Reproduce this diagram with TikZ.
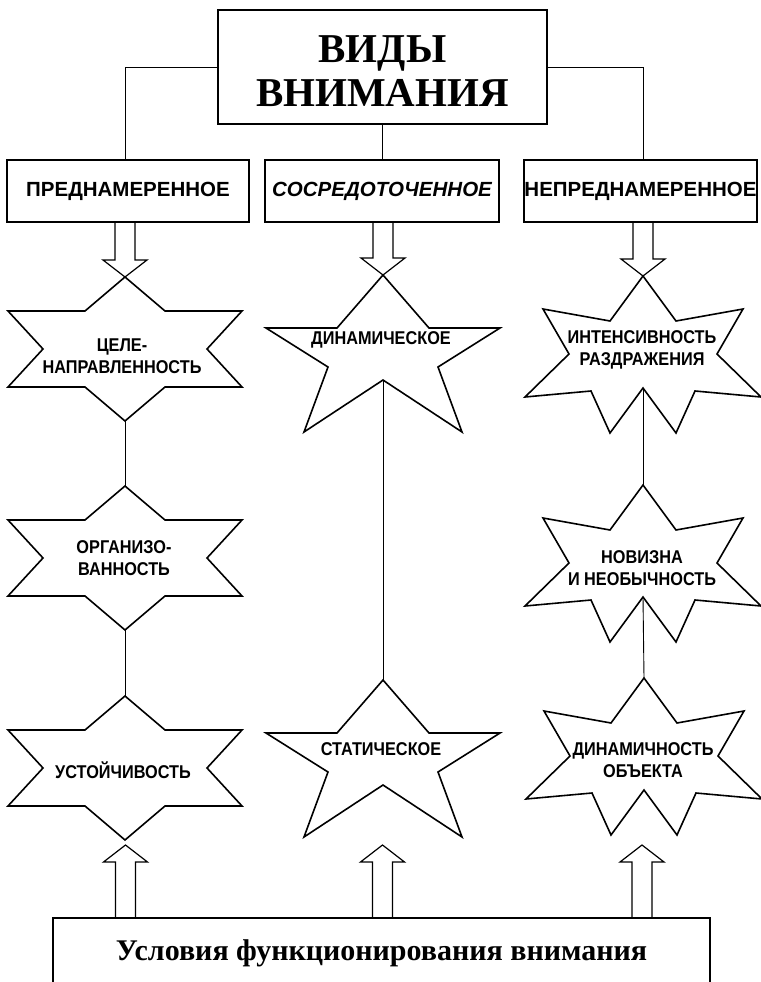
\documentclass[tikz,border=0pt]{standalone}
\usepackage{fontspec}
\setmainfont{Liberation Serif}
\setsansfont{Liberation Sans}
\newfontfamily\narrowsans[FakeStretch=0.88]{Liberation Sans}
\usetikzlibrary{calc}
\tikzset{
  hdbox/.style    = {draw, line width=1.8pt, minimum width=329pt, minimum height=114pt,
                     inner sep=0pt, align=center,
                     font=\fontsize{41}{44}\selectfont\bfseries},
  kindbox/.style  = {draw, line width=1.6pt, minimum height=62pt, inner sep=0pt,
                     font=\fontsize{20.5}{24}\sffamily\bfseries},
  condbox/.style  = {draw, line width=1.8pt, minimum width=657pt, minimum height=70pt,
                     inner sep=0pt, font=\fontsize{30}{34}\selectfont\bfseries},
  startxt/.style  = {align=center, inner sep=0pt,
                     font=\fontsize{18.5}{22}\narrowsans\bfseries},
  starline/.style = {draw, line width=1.6pt, line join=miter},
  lnk/.style      = {line width=0.9pt},
  hollowarr/.style= {line width=1.2pt, line join=miter},
  pics/hexstar/.style = {code={
    \draw[starline] (0,-72) -- (40,-38) -- (117,-38) -- (82,0) -- (117,38) -- (40,38)
      -- (0,72) -- (-40,38) -- (-117,38) -- (-82,0) -- (-117,-38) -- (-40,-38) -- cycle;
    \coordinate (-top) at (0,-72);
    \coordinate (-bot) at (0,72);
  }},
  pics/fivestar/.style = {code={
    \draw[starline] (0,-78) -- (46,-25) -- (117,-25) -- (55,14) -- (79,79) -- (0,27)
      -- (-79,79) -- (-55,14) -- (-117,-25) -- (-46,-25) -- cycle;
    \coordinate (-top) at (0,-78);
    \coordinate (-bot) at (0,27);
  }},
  pics/sevenstar/.style = {code={
    \draw[starline] (0,-80) -- (33,-35) -- (100,-47) -- (74,-2) -- (118,41) -- (52,35)
      -- (33,77) -- (0,32) -- (-33,77) -- (-52,35) -- (-118,41) -- (-74,-2)
      -- (-100,-47) -- (-33,-35) -- cycle;
    \coordinate (-top) at (0,-80);
    \coordinate (-bot) at (0,32);
  }},
}
% hollow block arrow: #1 = foot, #2 = tip
\newcommand\blockarrow[2]{%
  \coordinate (ahb) at ($(#2)!17pt!(#1)$);
  \draw[hollowarr] ($(#1)+(-10pt,0)$) -- ($(ahb)+(-10pt,0)$) -- ($(ahb)+(-22pt,0)$)
    -- (#2) -- ($(ahb)+(22pt,0)$) -- ($(ahb)+(10pt,0)$) -- ($(#1)+(10pt,0)$);
}

\begin{document}
\begin{tikzpicture}[x=1pt,y=-1pt]
  \useasboundingbox (0,0) rectangle (760,982);

  \node[hdbox] (title) at (382.5,67) {};
  \node[font=\fontsize{41}{44}\selectfont\bfseries, align=center, inner sep=0pt]
    (titletx) at (382.5,71) {ВИДЫ\\ВНИМАНИЯ};

  \node[kindbox, minimum width=242pt] (pre) at (128,191) {ПРЕДНАМЕРЕННОЕ};
  \node[kindbox, minimum width=234pt, font=\fontsize{20.5}{24}\sffamily\bfseries\itshape]
    (conc) at (382,191) {СОСРЕДОТОЧЕННОЕ};
  \node[kindbox, minimum width=233pt] (invol) at (640.5,191) {НЕПРЕДНАМЕРЕННОЕ};

  \node[condbox] (cond) at (381.5,953) {Условия функционирования внимания};

  % left column
  \pic (tsel) at (125,349) {hexstar};
  \node[startxt] (tseltx) at (122,356) {ЦЕЛЕ-\\НАПРАВЛЕННОСТЬ};
  \pic (org) at (125,558) {hexstar};
  \node[startxt] (orgtx) at (124,558) {ОРГАНИЗО-\\ВАННОСТЬ};
  \pic (ust) at (125,768) {hexstar};
  \node[startxt] (usttx) at (123,770) {УСТОЙЧИВОСТЬ};

  % middle column
  \pic (dyn) at (383,353) {fivestar};
  \node[startxt] (dyntx) at (381,340) {ДИНАМИЧЕСКОЕ};
  \pic (stat) at (383,758) {fivestar};
  \node[startxt] (stattx) at (381,749) {СТАТИЧЕСКОЕ};

  % right column
  \pic (inten) at (643,356) {sevenstar};
  \node[startxt] (intentx) at (642,350) {ИНТЕНСИВНОСТЬ\\РАЗДРАЖЕНИЯ};
  \pic (novel) at (643,565) {sevenstar};
  \node[startxt] (noveltx) at (642,568) {НОВИЗНА\\И НЕОБЫЧНОСТЬ};
  \pic (dobj) at (644,758) {sevenstar};
  \node[startxt] (dobjtx) at (643,760) {ДИНАМИЧНОСТЬ\\ОБЪЕКТА};

  \draw[lnk] (title.west) -| (pre.north -| tsel-top);
  \draw[lnk] (title.south) -- (title.south |- conc.north);
  \draw[lnk] (title.east) -| (invol.north -| inten-top);
  \draw[lnk] (tsel-bot) -- (org-top);
  \draw[lnk] (org-bot) -- (ust-top);
  \draw[lnk] (dyn-bot) -- (stat-top);
  \draw[lnk] (inten-bot) -- (novel-top);
  \draw[lnk] (novel-bot) -- (dobj-top);

  \blockarrow{pre.south -| tsel-top}{tsel-top}
  \blockarrow{conc.south -| dyn-top}{dyn-top}
  \blockarrow{invol.south -| inten-top}{inten-top}

  \coordinate (upA) at (125.5,845);
  \coordinate (upB) at (382.5,845);
  \coordinate (upC) at (642,845);
  \blockarrow{cond.north -| upA}{upA}
  \blockarrow{cond.north -| upB}{upB}
  \blockarrow{cond.north -| upC}{upC}
\end{tikzpicture}
\end{document}
